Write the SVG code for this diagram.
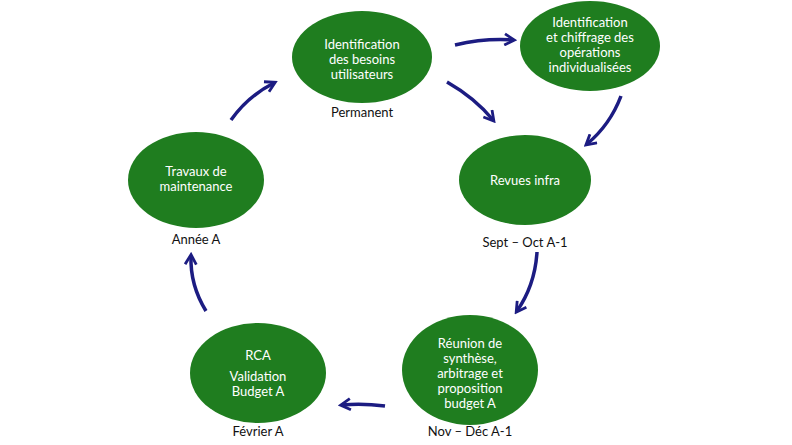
<svg xmlns="http://www.w3.org/2000/svg" width="792" height="445" viewBox="0 0 792 445">
<style>
.n{fill:#1f7d1f}
.t{fill:#fff;font-family:Lato,"Open Sans",sans-serif;font-size:13px;text-anchor:middle}
.l{fill:#111;font-family:Lato,"Open Sans",sans-serif;font-size:13px;text-anchor:middle}
.c{fill:none;stroke:#1c1c82;stroke-width:3.5;marker-end:url(#a)}
</style>
<defs><marker id="a" viewBox="0 0 10 10" refX="7" refY="5" markerWidth="4" markerHeight="4" orient="auto" markerUnits="strokeWidth"><path d="M1 1L8 5L1 9" fill="none" stroke="#1c1c82" stroke-width="2"/></marker></defs>
<rect width="792" height="445" fill="#fff"/>
<g id="n1"><ellipse class="n" cx="362" cy="57" rx="70" ry="46"/><text class="t" x="362" y="49">Identification</text><text class="t" x="362" y="64">des besoins</text><text class="t" x="362" y="79">utilisateurs</text><text class="l" x="362" y="117">Permanent</text></g>
<g id="n2"><ellipse class="n" cx="590" cy="46" rx="70" ry="45"/><text class="t" x="590" y="27">Identification</text><text class="t" x="590" y="42">et chiffrage des</text><text class="t" x="590" y="57">opérations</text><text class="t" x="590" y="72">individualisées</text></g>
<g id="n3"><ellipse class="n" cx="525" cy="180" rx="66" ry="45"/><text class="t" x="525" y="185">Revues infra</text><text class="l" x="525" y="247">Sept – Oct A-1</text></g>
<g id="n4"><ellipse class="n" cx="470" cy="370" rx="68" ry="55"/><text class="t" x="470" y="348">Réunion de</text><text class="t" x="470" y="363">synthèse,</text><text class="t" x="470" y="378">arbitrage et</text><text class="t" x="470" y="393">proposition</text><text class="t" x="470" y="408">budget A</text><text class="l" x="470" y="436">Nov – Déc A-1</text></g>
<g id="n5"><ellipse class="n" cx="258" cy="373" rx="68" ry="50"/><text class="t" x="258" y="360">RCA</text><text class="t" x="258" y="381">Validation</text><text class="t" x="258" y="396">Budget A</text><text class="l" x="258" y="436">Février A</text></g>
<g id="n6"><ellipse class="n" cx="196" cy="180" rx="68" ry="48"/><text class="t" x="196" y="176">Travaux de</text><text class="t" x="196" y="191">maintenance</text><text class="l" x="196" y="244">Année A</text></g>
<g id="connectors">
<path class="c" d="M455 45Q485 38 513 40"/>
<path class="c" d="M447 82Q475 98 493 120"/>
<path class="c" d="M621 96Q610 125 587 144"/>
<path class="c" d="M537 252Q535 285 517 311"/>
<path class="c" d="M385 406Q362 403 342 405"/>
<path class="c" d="M206 311Q190 285 191 256"/>
<path class="c" d="M231 120Q248 96 274 83"/>
</g>
</svg>
